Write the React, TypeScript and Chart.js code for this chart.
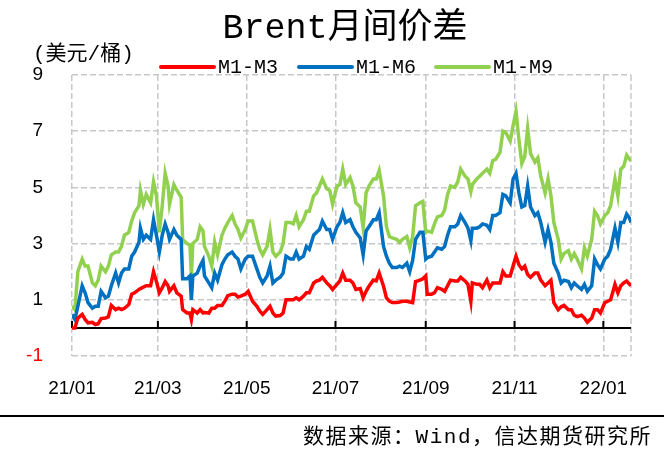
import { useEffect, useRef } from "react";
import { Chart, registerables } from "chart.js";

Chart.register(...registerables);

// ---- data (days counted from 2021-01-01) ----
const tickDays = [0, 59, 120, 181, 243, 304, 365];
const tickLabels = ["21/01", "21/03", "21/05", "21/07", "21/09", "21/11", "22/01"];
const yTicks = [-1, 1, 3, 5, 7, 9];
const seriesNames = ["M1-M3", "M1-M6", "M1-M9"];
const seriesColors = ["#FF0000", "#0070C0", "#92D050"];

const days = [
  0, 2, 4, 7, 9, 11, 14, 16, 18, 20,
  23, 25, 27, 30, 32, 34, 36, 39, 41, 43,
  46, 47, 49, 51, 54, 56, 58, 60, 62, 64,
  66, 67, 70, 72, 75, 76, 79, 81, 82, 83,
  86, 88, 90, 91, 94, 96, 98, 100, 103, 105,
  107, 110, 112, 114, 116, 119, 121, 124, 127, 129,
  131, 134, 136, 138, 140, 143, 145, 147, 150, 152,
  154, 156, 159, 161, 163, 166, 168, 170, 172, 175,
  177, 179, 182, 184, 186, 188, 191, 193, 195, 198,
  200, 202, 204, 207, 209, 211, 214, 216, 218, 220,
  223, 225, 227, 230, 232, 234, 236, 239, 241, 243,
  244, 247, 249, 251, 254, 256, 258, 260, 263, 265,
  267, 270, 272, 274, 275, 278, 280, 282, 285, 287,
  289, 291, 294, 296, 298, 301, 303, 305, 307, 309,
  311, 313, 315, 318, 320, 322, 325, 327, 329, 331,
  334, 336, 338, 341, 343, 345, 347, 350, 352, 354,
  357, 359, 361, 363, 366, 368, 370, 373, 375, 377,
  379, 381, 383, 384,
];

const m1m3 = [
  0.0, 0.0, 0.35, 0.48, 0.3, 0.18, 0.2, 0.12, 0.15, 0.33,
  0.35, 0.4, 0.8, 0.65, 0.7, 0.65, 0.7, 0.83, 1.2, 1.25,
  1.37, 1.4, 1.45, 1.5, 1.5, 2.0, 1.65, 1.25, 1.43, 1.65,
  1.5, 1.3, 1.5, 1.25, 1.13, 0.65, 0.53, 0.53, 0.3, 0.65,
  0.53, 0.65, 0.53, 0.55, 0.53, 0.7, 0.7, 0.8, 0.8, 0.95,
  1.15, 1.2, 1.2, 1.1, 1.13, 1.2, 1.3, 0.95, 0.77, 0.6,
  0.48, 0.65, 0.77, 0.53, 0.42, 0.44, 0.53, 1.0, 1.0, 1.0,
  1.07, 1.0, 1.13, 1.25, 1.25, 1.6, 1.67, 1.7, 1.8, 1.6,
  1.5, 1.37, 1.55, 1.67, 1.95, 1.7, 1.7, 1.6, 1.37, 1.4,
  1.07, 1.3, 1.48, 1.7, 1.67, 1.95, 1.48, 1.07, 0.95, 0.9,
  0.9, 0.92, 0.95, 0.95, 0.92, 0.9, 1.65, 1.7, 1.75, 1.85,
  1.2, 1.2, 1.25, 1.43, 1.37, 1.3, 1.5, 1.7, 1.67, 1.67,
  1.8, 1.67, 1.55, 0.95, 1.6, 1.55, 1.55, 1.43, 1.7, 1.43,
  1.6, 1.6, 1.6, 2.0, 1.85, 1.85, 2.2, 2.55, 2.25, 2.1,
  2.2, 1.9, 1.8, 1.95, 1.95, 1.7, 1.5, 1.6, 1.7, 0.9,
  0.65, 0.75, 0.8, 0.65, 0.65, 0.45, 0.4, 0.45, 0.35, 0.2,
  0.35, 0.65, 0.65, 0.53, 0.9, 0.95, 1.0, 1.55, 1.25, 1.5,
  1.6, 1.67, 1.55, 1.5,
];

const m1m6 = [
  0.48, 0.3, 0.77, 1.5, 1.25, 0.9, 0.7, 0.77, 0.77, 1.3,
  1.07, 1.13, 1.5, 1.95, 1.6, 1.95, 2.1, 2.1, 2.55, 2.7,
  3.05, 3.55, 3.15, 3.3, 3.15, 3.85, 3.3, 2.7, 3.3, 3.7,
  3.4, 3.15, 3.5, 3.3, 3.15, 1.75, 1.75, 1.85, 1.0, 1.85,
  1.95, 2.2, 2.4, 1.85, 1.6, 1.43, 1.95, 1.7, 2.25, 2.45,
  2.6, 2.7, 2.55, 2.45, 2.1, 2.45, 2.55, 2.55, 2.1, 1.8,
  1.6, 1.85, 2.2, 1.6, 1.7, 1.8, 1.95, 2.55, 2.45, 2.45,
  2.7, 2.45, 2.55, 2.9, 2.8, 3.3, 3.4, 3.5, 3.8, 3.5,
  3.5, 3.15, 3.6, 3.75, 4.1, 3.75, 3.85, 3.6, 3.4, 3.2,
  2.6, 3.45, 3.6, 3.85, 3.85, 4.1, 2.9, 2.55, 2.3, 2.15,
  2.15, 2.2, 2.15, 2.3, 2.0, 2.4, 3.15, 3.4, 3.4, 2.45,
  2.5, 2.55, 2.7, 2.85, 2.8, 2.9, 3.3, 3.6, 3.6, 3.7,
  4.0, 3.75, 3.55, 3.1, 3.55, 3.55, 3.6, 3.7, 3.65, 3.5,
  4.0, 4.0, 4.1, 4.75, 4.7, 4.45, 5.3, 5.5, 4.8, 4.3,
  4.35, 5.05, 4.3, 4.0, 4.1, 3.75, 3.05, 3.5, 3.05, 2.3,
  1.95, 1.6, 1.7, 1.65, 1.43, 1.6, 1.5, 1.37, 1.55, 1.3,
  1.5, 2.45, 2.25, 2.1, 2.45, 2.55, 2.8, 3.55, 3.05, 3.75,
  3.75, 4.05, 3.9, 3.75,
];

const m1m9 = [
  0.77, 0.65, 2.0, 2.45, 2.2, 2.2, 1.6, 1.5, 1.7, 2.2,
  2.0, 2.2, 2.6, 2.7, 2.7, 2.9, 3.3, 3.4, 3.8, 4.1,
  4.35, 4.9, 4.4, 4.75, 4.45, 5.2, 4.7, 3.4, 4.35, 5.5,
  5.05, 4.4, 5.1, 4.9, 4.65, 3.15, 3.0, 2.95, 1.85, 3.0,
  3.15, 3.6, 3.45, 2.9, 2.55, 2.2, 3.05, 2.6, 3.3, 3.55,
  3.75, 4.0, 3.7, 3.5, 3.2, 3.5, 3.8, 3.8, 3.15, 2.8,
  2.6, 2.9, 3.5, 2.7, 2.55, 2.7, 3.0, 3.75, 3.75, 3.7,
  4.0, 3.6, 3.85, 4.15, 4.15, 4.7, 4.8, 5.05, 5.3, 4.95,
  4.9, 4.4, 5.05, 5.1, 5.65, 5.1, 5.35, 5.05, 4.45, 4.3,
  3.55, 4.8, 5.05, 5.3, 5.3, 5.6, 4.7, 3.6, 3.25, 3.2,
  3.15, 3.05, 3.15, 3.25, 2.85, 3.25, 4.35, 4.45, 4.5, 3.4,
  3.45, 3.4, 3.7, 3.95, 4.0, 4.2, 4.75, 5.05, 5.0, 5.2,
  5.65, 5.4, 5.3, 4.85, 5.1, 5.3, 5.4, 5.5, 5.65, 5.5,
  5.95, 6.0, 6.25, 7.0, 6.95, 6.65, 7.2, 7.7, 6.7, 5.85,
  6.1, 7.1, 6.2, 5.9, 6.05, 5.4, 4.8, 5.3, 4.7, 3.75,
  3.15, 2.45, 2.65, 2.75, 2.45, 2.65, 2.45, 2.1, 2.85, 2.55,
  3.15, 4.15, 4.0, 3.7, 4.0, 4.1, 4.35, 5.3, 4.7, 5.65,
  5.75, 6.15, 6.0, 5.95,
];

const titleText = "Brent月间价差";
const unitText = "(美元/桶)";
const sourceText = "数据来源：Wind，信达期货研究所";

const MONO_CJK = '"Liberation Mono", "Noto Sans CJK SC"';
const GRID_COLOR = "#c8c8c8";

const decorPlugin = {
  id: "decor",
  beforeDatasetsDraw(chart: any) {
    const { ctx, chartArea: a, scales } = chart;
    const x = scales.x;
    const y = scales.y;
    ctx.save();
    // right edge (dashed like grid)
    ctx.strokeStyle = GRID_COLOR;
    ctx.lineWidth = 1.5;
    ctx.setLineDash([6, 3]);
    ctx.beginPath();
    ctx.moveTo(a.right, a.top);
    ctx.lineTo(a.right, a.bottom);
    ctx.stroke();
    ctx.setLineDash([]);
    // zero axis line with tick marks
    const y0 = y.getPixelForValue(0);
    ctx.strokeStyle = "#000";
    ctx.lineWidth = 2;
    ctx.beginPath();
    ctx.moveTo(a.left, y0);
    ctx.lineTo(a.right, y0);
    tickDays.forEach((d) => {
      const px = x.getPixelForValue(d);
      ctx.moveTo(px, y0);
      ctx.lineTo(px, y0 - 7);
    });
    ctx.stroke();
    ctx.restore();
  },
  afterDraw(chart: any) {
    const { ctx } = chart;
    ctx.save();
    // title
    ctx.fillStyle = "#000";
    ctx.font = `35px ${MONO_CJK}`;
    ctx.textAlign = "center";
    ctx.textBaseline = "middle";
    ctx.fillText(titleText, 345, 29);
    // unit
    ctx.font = `21px ${MONO_CJK}`;
    ctx.textAlign = "left";
    ctx.fillText(unitText, 33, 54);
    // legend
    const legendX = [161, 299, 436];
    chart.data.datasets.forEach((ds: any, i: number) => {
      const lx = legendX[i];
      ctx.strokeStyle = ds.borderColor;
      ctx.lineWidth = 4;
      ctx.lineCap = "round";
      ctx.beginPath();
      ctx.moveTo(lx, 67);
      ctx.lineTo(lx + 53, 67);
      ctx.stroke();
      ctx.fillStyle = "#000";
      ctx.font = '20px "Liberation Mono"';
      ctx.textAlign = "left";
      ctx.fillText(ds.label, lx + 57, 68);
    });
    // bottom rule
    ctx.strokeStyle = "#000";
    ctx.lineWidth = 2;
    ctx.lineCap = "butt";
    ctx.beginPath();
    ctx.moveTo(0, 416);
    ctx.lineTo(664, 416);
    ctx.stroke();
    // source
    ctx.font = `21px ${MONO_CJK}`;
    (ctx as any).letterSpacing = "1.5px";
    ctx.textAlign = "right";
    ctx.fillStyle = "#000";
    ctx.fillText(sourceText, 652, 437);
    ctx.restore();
  },
};

export default function App() {
  const canvasRef = useRef<HTMLCanvasElement | null>(null);

  useEffect(() => {
    document.body.style.margin = "0";
    const canvas = canvasRef.current;
    if (!canvas) return;
    const series = [m1m3, m1m6, m1m9];
    const chart = new Chart(canvas, {
      type: "line",
      data: {
        datasets: series.map((vals, i) => ({
          label: seriesNames[i],
          data: vals.map((v, k) => ({ x: days[k], y: v })),
          borderColor: seriesColors[i],
          backgroundColor: seriesColors[i],
          borderWidth: 3.5,
          pointRadius: 0,
          tension: 0,
          fill: false,
        })),
      },
      options: {
        responsive: false,
        animation: false,
        layout: { padding: { left: 0, right: 33, top: 75, bottom: 0 } },
        plugins: {
          legend: { display: false },
          title: { display: false },
          tooltip: { enabled: false },
        },
        scales: {
          x: {
            type: "linear",
            min: 0,
            max: 384,
            afterFit: (s: any) => {
              s.height = 94;
            },
            afterBuildTicks: (s: any) => {
              s.ticks = tickDays.map((v) => ({ value: v }));
            },
            grid: { color: GRID_COLOR, lineWidth: 1.5, drawTicks: false },
            border: { display: false, dash: [6, 3] },
            ticks: {
              autoSkip: false,
              maxRotation: 0,
              padding: 21,
              color: "#000",
              font: { family: '"Liberation Sans"', size: 19 },
              callback: (value: any) => {
                const idx = tickDays.indexOf(Number(value));
                return idx >= 0 ? tickLabels[idx] : "";
              },
            },
          },
          y: {
            min: -1,
            max: 9,
            afterFit: (s: any) => {
              s.width = 72;
            },
            afterBuildTicks: (s: any) => {
              s.ticks = yTicks.map((v) => ({ value: v }));
            },
            grid: { color: GRID_COLOR, lineWidth: 1.5, drawTicks: false },
            border: { display: false, dash: [6, 3] },
            ticks: {
              padding: 29,
              color: (c: any) => (c.tick && c.tick.value < 0 ? "#FF0000" : "#000"),
              font: { family: '"Liberation Sans"', size: 19 },
              callback: (value: any) => String(value),
            },
          },
        },
      },
      plugins: [decorPlugin],
    } as any);
    return () => {
      chart.destroy();
    };
  }, []);

  return (
    <div style={{ width: 664, height: 450 }}>
      <canvas ref={canvasRef} width={664} height={450} />
    </div>
  );
}
